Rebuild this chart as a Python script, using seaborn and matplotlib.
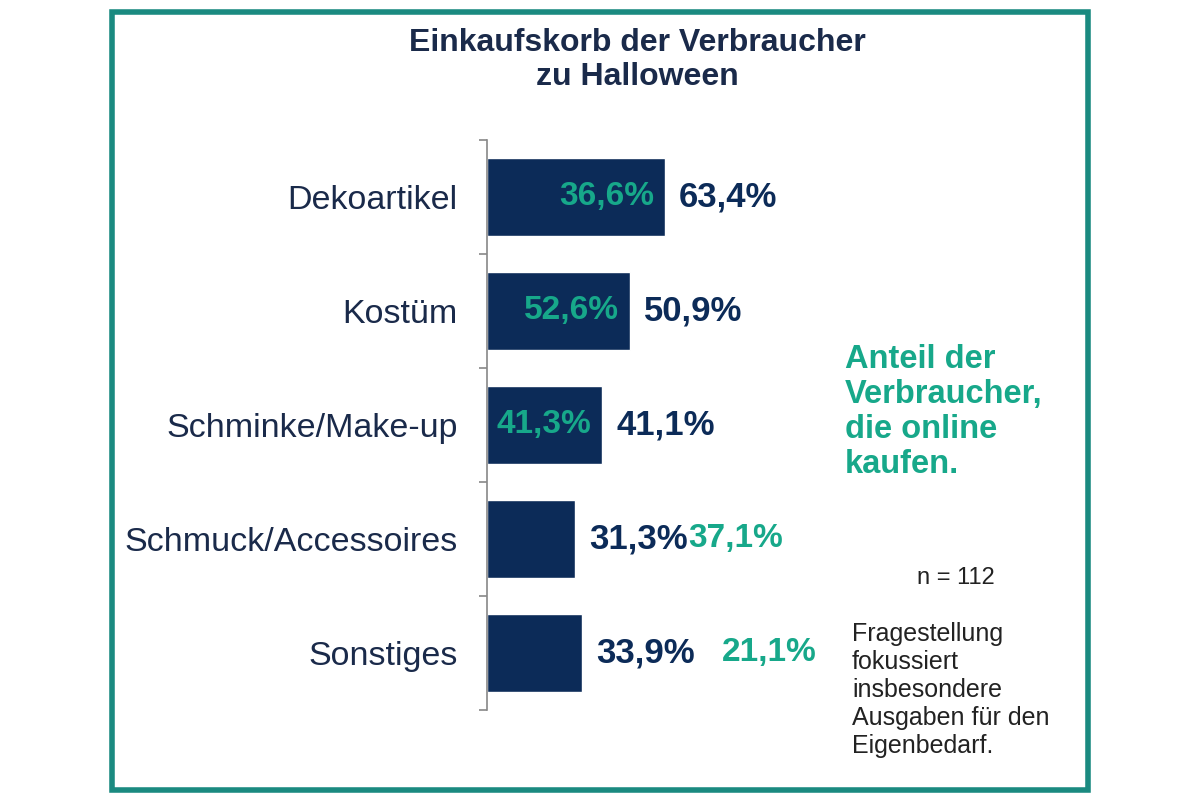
import matplotlib
matplotlib.use("Agg")
import matplotlib.pyplot as plt
import seaborn as sns
import pandas as pd
from matplotlib.patches import Rectangle

categories = ["Dekoartikel", "Kostüm", "Schminke/Make-up", "Schmuck/Accessoires", "Sonstiges"]
share_all = [63.4, 50.9, 41.1, 31.3, 33.9]
share_online = [36.6, 52.6, 41.3, 37.1, 21.1]
online_inside = [True, True, True, False, False]

NAVY = "#0c2b58"
GREEN = "#17a88a"
BORDER = "#1a8a80"

sns.set_theme(style="white")
plt.rcParams['font.family'] = ['Liberation Sans', 'DejaVu Sans']

fig = plt.figure(figsize=(12, 8), dpi=100)
fig.patches.append(Rectangle((112/1200, 10/800), 976/1200, 778/800, transform=fig.transFigure,
                             fill=False, edgecolor=BORDER, linewidth=4))
ax = fig.add_axes([487/1200, 1-710/800, 281/1200, 570/800])
df = pd.DataFrame({"cat": categories, "v": share_all})
sns.barplot(data=df, x="v", y="cat", color=NAVY, width=0.68, ax=ax, saturation=1)
ax.set_xlim(0, 100)
ax.set_ylim(4.5, -0.5)
ax.set_xlabel(""); ax.set_ylabel("")
ax.set_xticks([])
for s in ["top", "right", "bottom"]:
    ax.spines[s].set_visible(False)
ax.spines["left"].set_color("#888888")
ax.spines["left"].set_linewidth(1.2)
ax.set_yticks(range(5))
ax.set_yticklabels(categories, fontsize=24.5, color="#1a2a4a")
ax.tick_params(axis="y", length=0, pad=21)
ax.set_yticks([-0.5, 0.5, 1.5, 2.5, 3.5, 4.5], minor=True)
ax.tick_params(axis="y", which="minor", length=6, color="#888888", width=1.2, left=True)

for i, (a, o, inside) in enumerate(zip(share_all, share_online, online_inside)):
    fa = f"{a:.1f}%".replace(".", ",")
    fo = f"{o:.1f}%".replace(".", ",")
    ax.text(a + 5, i, fa, va="center", ha="left", fontsize=25, fontweight="bold", color=NAVY)
    if inside:
        ax.text(a - 4, i, fo, va="center", ha="right", fontsize=24, fontweight="bold", color=GREEN)
one = {3: 71.5, 4: 83.5}
for i in (3, 4):
    fo = f"{share_online[i]:.1f}%".replace(".", ",")
    ax.text(one[i], i, fo, va="center", ha="left", fontsize=24, fontweight="bold", color=GREEN)

fig.text(637/1200, 1-60/800, "Einkaufskorb der Verbraucher\nzu Halloween", ha="center", va="center",
         fontsize=23, fontweight="bold", color="#1a2a4a", linespacing=1.15)
fig.text(845/1200, 1-412/800, "Anteil der\nVerbraucher,\ndie online\nkaufen.", ha="left", va="center",
         fontsize=23.5, fontweight="bold", color=GREEN, linespacing=1.18)
fig.text(956/1200, 1-578/800, "n = 112", ha="center", va="center", fontsize=17, color="#222222")
fig.text(852/1200, 1-690/800, "Fragestellung\nfokussiert\ninsbesondere\nAusgaben für den\nEigenbedarf.",
         ha="left", va="center", fontsize=18, color="#222222", linespacing=1.2)
fig.savefig("out.png", dpi=100)
